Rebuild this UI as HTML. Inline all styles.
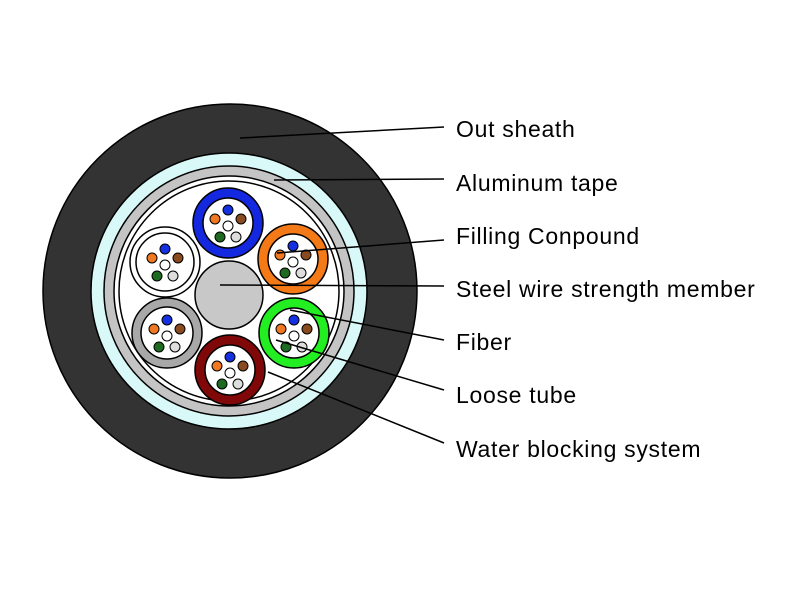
<!DOCTYPE html>
<html><head><style>body{margin:0;background:#fff}svg{display:block}</style></head><body>
<svg width="800" height="600" xmlns="http://www.w3.org/2000/svg">
<defs>
<g id="fib">
<circle cx="0" cy="-13" r="5" fill="#1430e0" stroke="#000" stroke-width="1"/>
<circle cx="-13" cy="-4" r="5" fill="#f07820" stroke="#000" stroke-width="1"/>
<circle cx="13" cy="-4" r="5" fill="#8a4a20" stroke="#000" stroke-width="1"/>
<circle cx="0" cy="3" r="5" fill="#fff" stroke="#000" stroke-width="1"/>
<circle cx="-8" cy="14" r="5" fill="#1e6a20" stroke="#000" stroke-width="1"/>
<circle cx="8" cy="14" r="5" fill="#ddd" stroke="#000" stroke-width="1"/>
</g>
</defs>
<circle cx="230" cy="291" r="187" fill="#333" stroke="#000" stroke-width="1.5"/>
<circle cx="229" cy="291" r="138" fill="#d9f8f8" stroke="#000" stroke-width="1.5"/>
<circle cx="229" cy="291" r="125" fill="#c4c4c4" stroke="#000" stroke-width="1.5"/>
<circle cx="229" cy="291" r="115" fill="#fff" stroke="#000" stroke-width="1.5"/>
<circle cx="229" cy="291" r="110" fill="#fff" stroke="#000" stroke-width="1.5"/>
<circle cx="229" cy="295" r="34" fill="#c8c8c8" stroke="#000" stroke-width="1.5"/>
<g stroke="#000" stroke-width="1.5">
<circle cx="228" cy="223" r="35" fill="#1428e0"/><circle cx="228" cy="223" r="25" fill="#fff"/>
<circle cx="293" cy="259" r="35" fill="#f47a18"/><circle cx="293" cy="259" r="25" fill="#fff"/>
<circle cx="165" cy="262" r="35" fill="#fff"/><circle cx="165" cy="262" r="29" fill="#fff"/>
<circle cx="167" cy="333" r="35" fill="#a8a8a8"/><circle cx="167" cy="333" r="26" fill="#fff"/>
<circle cx="230" cy="370" r="35" fill="#800808"/><circle cx="230" cy="370" r="25" fill="#fff"/>
<circle cx="294" cy="333" r="35" fill="#22ee22"/><circle cx="294" cy="333" r="25" fill="#fff"/>
</g>
<use href="#fib" x="228" y="223"/><use href="#fib" x="293" y="259"/><use href="#fib" x="165" y="262"/>
<use href="#fib" x="167" y="333"/><use href="#fib" x="230" y="370"/><use href="#fib" x="294" y="333"/>
<g stroke="#000" stroke-width="1.5">
<line x1="240" y1="138" x2="444" y2="127"/>
<line x1="274" y1="180" x2="444" y2="179"/>
<line x1="277" y1="253" x2="444" y2="240"/>
<line x1="220" y1="285" x2="444" y2="286"/>
<line x1="290" y1="310" x2="444" y2="340"/>
<line x1="276" y1="340" x2="444" y2="390"/>
<line x1="268" y1="372" x2="444" y2="443"/>
</g>
<g font-family="Liberation Sans, Arial, sans-serif" font-size="23" letter-spacing="0.7" fill="#000">
<text x="456" y="137">Out sheath</text>
<text x="456" y="191">Aluminum tape</text>
<text x="456" y="244">Filling Conpound</text>
<text x="456" y="297">Steel wire strength member</text>
<text x="456" y="350">Fiber</text>
<text x="456" y="403">Loose tube</text>
<text x="456" y="457">Water blocking system</text>
</g>
</svg>
</body></html>
